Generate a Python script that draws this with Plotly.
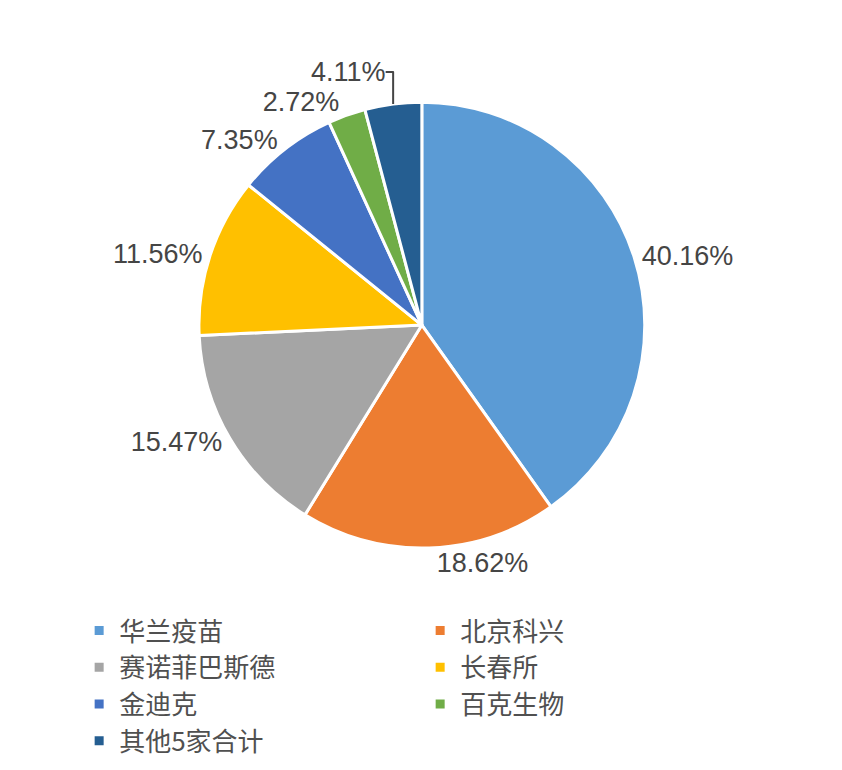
import plotly.graph_objects as go

companies = ["华兰疫苗", "北京科兴", "赛诺菲巴斯德", "长春所", "金迪克", "百克生物", "其他5家合计"]
shares = [40.16, 18.62, 15.47, 11.56, 7.35, 2.72, 4.11]
colors = ["#5B9BD5", "#ED7D31", "#A5A5A5", "#FFC000", "#4472C4", "#70AD47", "#255E91"]
# legend column for each company (two-column legend as in the original)
legend_column = ["legend", "legend2", "legend", "legend2", "legend", "legend2", "legend"]

fig = go.Figure()
fig.add_trace(go.Pie(
    labels=companies,
    values=shares,
    sort=False,
    direction="clockwise",
    rotation=0,
    marker=dict(colors=colors, line=dict(color="white", width=3)),
    texttemplate="%{value:.2f}%",
    textposition="outside",
    textfont=dict(family="Liberation Sans, Arial", size=27, color="#454545"),
    hoverinfo="label+value",
    showlegend=False,
    domain=dict(x=[0.0905, 0.8925], y=[0.2987, 0.8777]),
))

# legend entries (square swatches) split over two columns
for name, col, lg in zip(companies, colors, legend_column):
    fig.add_trace(go.Scatter(
        x=[None], y=[None], mode="markers", name=name,
        marker=dict(symbol="square", size=9, color=col),
        legend=lg, showlegend=True, hoverinfo="skip",
    ))

legend_font = dict(family="Noto Sans CJK SC", size=26, color="#505050")
fig.update_layout(
    width=842, height=770,
    paper_bgcolor="white",
    plot_bgcolor="white",
    margin=dict(l=0, r=0, t=0, b=0, autoexpand=False),
    xaxis=dict(visible=False),
    yaxis=dict(visible=False),
    legend=dict(x=0.0845, y=0.222, xanchor="left", yanchor="top",
                font=legend_font, bgcolor="rgba(0,0,0,0)", tracegroupgap=0),
    legend2=dict(x=0.4895, y=0.222, xanchor="left", yanchor="top",
                 font=legend_font, bgcolor="rgba(0,0,0,0)", tracegroupgap=0),
)

fig.write_html("out.html")
